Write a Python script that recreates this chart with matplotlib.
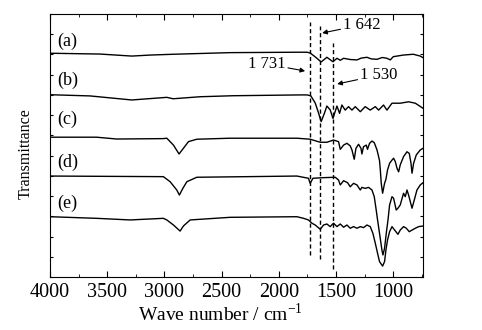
import matplotlib.pyplot as plt
from matplotlib.ticker import MultipleLocator

plt.rcParams['font.family'] = ['Liberation Serif', 'DejaVu Serif']

# FTIR spectra, stacked with offsets (wave number in cm^-1, transmittance in arbitrary units)
wn_a = [4000, 3563, 3285, 3125, 2921, 2426, 1842, 1752, 1726, 1682, 1630, 1580, 1527, 1492,
        1463, 1434, 1376, 1317, 1280, 1230, 1192, 1142, 1096, 1055, 1026, 1000, 912, 825, 764, 740]
t_a = [11.06, 11.02, 10.92, 10.97, 11.01, 11.09, 11.11, 11.11, 11.07, 10.88, 10.63, 10.86, 10.64, 10.81,
       10.71, 10.81, 10.75, 10.73, 10.82, 10.86, 10.78, 10.76, 10.85, 10.81, 10.73, 10.89, 10.97, 11.01, 10.92, 10.84]

wn_b = [4000, 3650, 3285, 2979, 2924, 2688, 2399, 1813, 1752, 1720, 1682, 1656, 1630, 1604, 1580,
        1551, 1527, 1492, 1469, 1449, 1420, 1391, 1361, 1332, 1288, 1245, 1201, 1157, 1128, 1085,
        1055, 1011, 939, 866, 807, 740]
t_b = [9.01, 8.95, 8.75, 8.88, 8.81, 8.91, 8.96, 9.00, 9.00, 8.95, 8.60, 8.16, 7.68, 8.06, 8.45,
       8.26, 7.84, 8.45, 8.09, 8.50, 8.25, 8.42, 8.25, 8.42, 8.17, 8.42, 8.25, 8.42, 8.25, 8.50,
       8.25, 8.59, 8.59, 8.66, 8.59, 8.34]

wn_c = [4000, 3592, 3417, 3012, 2979, 2921, 2872, 2834, 2790, 2717, 2426, 1842, 1726, 1638, 1580,
        1522, 1478, 1463, 1434, 1405, 1376, 1361, 1341, 1326, 1303, 1282, 1274, 1260, 1236, 1225,
        1207, 1186, 1166, 1142, 1128, 1120, 1113, 1105, 1093, 1076, 1064, 1050, 1032, 1011, 997,
        982, 967, 953, 939, 910, 880, 860, 845, 836, 822, 799, 764, 740]
t_c = [6.91, 6.91, 6.82, 6.84, 6.86, 6.52, 6.08, 6.36, 6.69, 6.81, 6.86, 6.86, 6.81, 6.66, 6.66,
       6.77, 6.69, 6.31, 6.52, 6.61, 6.48, 6.28, 5.82, 6.36, 6.56, 6.36, 6.08, 6.44, 6.52, 6.31,
       6.61, 6.72, 6.64, 6.28, 5.95, 5.75, 5.29, 4.63, 4.14, 4.63, 4.83, 5.29, 5.62, 5.78, 5.87,
       5.70, 5.37, 5.20, 5.54, 5.95, 6.19, 6.11, 5.62, 5.13, 5.62, 6.03, 6.28, 6.36]

wn_d = [4000, 3009, 2950, 2892, 2869, 2839, 2804, 2717, 1842, 1741, 1726, 1702, 1612, 1507, 1478,
        1463, 1434, 1399, 1376, 1347, 1317, 1288, 1274, 1245, 1216, 1186, 1166, 1149, 1137, 1120,
        1099, 1090, 1076, 1061, 1046, 1032, 1011, 997, 974, 959, 939, 910, 895, 880, 866, 836,
        816, 793, 764, 740]
t_d = [4.99, 4.96, 4.71, 4.30, 4.05, 4.38, 4.71, 4.93, 4.99, 4.88, 4.63, 4.88, 4.91, 4.93, 4.79,
       4.55, 4.76, 4.66, 4.46, 4.63, 4.55, 4.30, 4.43, 4.38, 4.43, 4.30, 3.97, 3.31, 2.82, 2.16,
       1.33, 1.09, 1.42, 2.16, 2.82, 3.56, 3.97, 3.89, 3.31, 3.40, 3.56, 4.14, 3.97, 4.30, 4.05, 3.40,
       3.81, 4.30, 4.55, 4.66]

wn_e = [4000, 3592, 3300, 3009, 2979, 2921, 2863, 2834, 2775, 2426, 1842, 1784, 1741, 1711, 1682,
        1638, 1609, 1580, 1551, 1522, 1492, 1463, 1434, 1405, 1376, 1347, 1317, 1288, 1260, 1230,
        1201, 1178, 1157, 1137, 1120, 1093, 1076, 1064, 1050, 1032, 1011, 988, 959, 939, 910, 886,
        860, 836, 807, 778, 740]
t_e = [2.98, 2.90, 2.82, 2.90, 2.82, 2.57, 2.27, 2.52, 2.82, 2.95, 2.98, 2.90, 2.82, 2.66, 2.57,
       2.36, 2.57, 2.62, 2.49, 2.66, 2.49, 2.62, 2.46, 2.57, 2.41, 2.49, 2.41, 2.49, 2.44, 2.57,
       2.49, 2.16, 1.67, 1.17, 0.76, 0.54, 0.76, 1.33, 1.83, 2.24, 2.49, 2.32, 2.11, 2.32, 2.49, 2.41,
       2.24, 2.32, 2.41, 2.49, 2.52]

labels = ['(a)', '(b)', '(c)', '(d)', '(e)']
label_y = [11.67, 9.74, 7.81, 5.68, 3.66]

# marker lines: position, bottom, top
peak_pos = [1731, 1642, 1530]
peak_ymin = [1.07, 0.87, 0.38]
peak_ymax = [12.6, 12.41, 11.56]

fig = plt.figure(figsize=(4.82, 3.30), dpi=100)
ax = fig.add_axes([0.1037, 0.1606, 0.7739, 0.797])

for wn, t in [(wn_a, t_a), (wn_b, t_b), (wn_c, t_c), (wn_d, t_d), (wn_e, t_e)]:
    ax.plot(wn, t, color='black', lw=1.0)

for lab, y in zip(labels, label_y):
    ax.text(3939, y, lab, fontsize=13, va='center', ha='left')

for x, y0, y1 in zip(peak_pos, peak_ymin, peak_ymax):
    ax.plot([x, x], [y0, y1], color='black', lw=1.0, ls=(0, (3, 2)))

arrow = dict(arrowstyle='-|>', color='black', lw=0.8, mutation_scale=7, shrinkA=0, shrinkB=0)
ax.annotate('1 642', xy=(1621, 12.06), xytext=(1437, 12.46), fontsize=12,
            va='center', ha='left', arrowprops=arrow)
ax.annotate('1 731', xy=(1770, 10.18), xytext=(1944, 10.53), fontsize=12,
            va='center', ha='right', arrowprops=arrow)
ax.annotate('1 530', xy=(1490, 9.54), xytext=(1288, 9.98), fontsize=12,
            va='center', ha='left', arrowprops=arrow)

ax.set_xlim(4000, 740)
ax.set_ylim(0, 13)
ax.xaxis.set_major_locator(MultipleLocator(500))
ax.xaxis.set_minor_locator(MultipleLocator(250))
ax.yaxis.set_major_locator(MultipleLocator(1))
ax.tick_params(axis='both', which='both', direction='in', top=True, right=True)
ax.tick_params(axis='x', which='major', length=4, labelsize=14.5, pad=4)
ax.tick_params(axis='x', which='minor', length=2.5)
ax.tick_params(axis='y', which='major', length=2.5, labelleft=False)

ax.set_xlabel('Wave number / cm$^{\\mathregular{-1}}$', fontsize=14)
ax.set_ylabel('Transmittance', fontsize=11.5)
ax.xaxis.set_label_coords(0.456, -0.097)
ax.yaxis.set_label_coords(-0.043, 0.468)

fig.savefig('out.png', dpi=100)
